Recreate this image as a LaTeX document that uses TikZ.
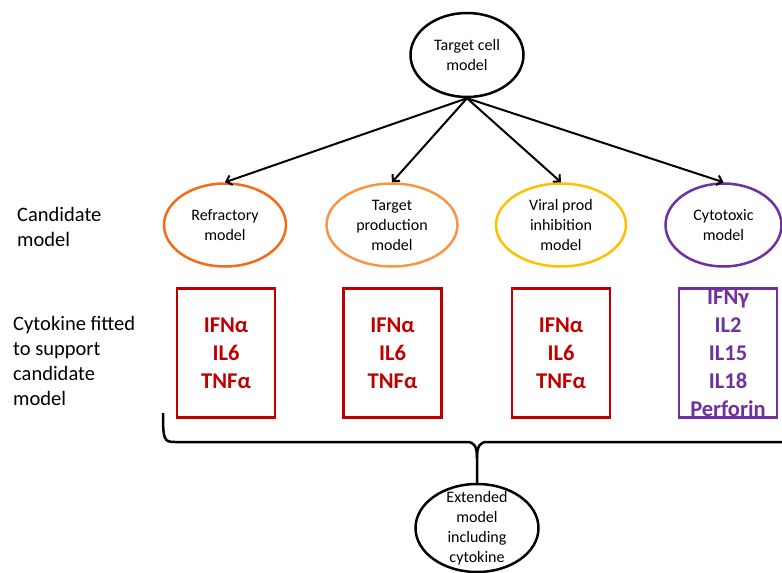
\documentclass[tikz,border=0pt]{standalone}
\usepackage{fontspec}
\setmainfont{Carlito}
\usetikzlibrary{positioning}
\usetikzlibrary{shapes.geometric}
\usetikzlibrary{arrows.meta}

\definecolor{refrorange}{HTML}{F26B16}
\definecolor{prodorange}{HTML}{F79646}
\definecolor{viralgold}{HTML}{FFC000}
\definecolor{cytopurple}{HTML}{7030A0}
\definecolor{cytored}{HTML}{C00000}

\begin{document}
\begin{tikzpicture}[
    x=1pt, y=-1pt,
    model/.style={draw, ellipse, line width=2.5pt, inner sep=0pt, align=center,
        font=\fontsize{16}{20}\selectfont},
    cytobox/.style={draw, rectangle, line width=2.5pt, minimum width=98pt,
        minimum height=129pt, inner sep=0pt, inner ysep=-5pt, align=center,
        font=\bfseries\fontsize{22.5}{28}\selectfont},
    sidelbl/.style={anchor=west, align=left, inner sep=0pt, font=\fontsize{20.5}{25}\selectfont},
    modelarrow/.style={-{Straight Barb[length=5pt,width=10pt]}, line width=2pt}
]

    % Frame
    \useasboundingbox (0,0) rectangle (782,573);
    \clip (0,0) rectangle (782,573);

    % Top model
    \node[model, minimum width=113pt, minimum height=84pt] (target) at (467,55) {Target cell\\model};

    % Candidate models
    \node[model, refrorange, text=black, minimum width=122pt, minimum height=83pt] (refr) at (225,225) {Refractory\\model};
    \node[model, prodorange, text=black, minimum width=131pt, minimum height=83pt] (tprod) at (392,225) {Target\\production\\model};
    \node[model, viralgold, text=black, minimum width=130pt, minimum height=83pt] (vprod) at (561,225) {Viral prod\\inhibition\\model};
    \node[model, cytopurple, text=black, minimum width=116pt, minimum height=83pt] (cyto) at (723.5,225) {Cytotoxic\\model};

    \foreach \m in {refr,tprod,vprod,cyto}
        \draw[modelarrow] (target.south) -- (\m.north);

    % Row labels
    \node[sidelbl] (candlbl) at (17,227) {Candidate\\model};
    \node[sidelbl] (fitlbl) at (13,360.5) {Cytokine fitted\\to support\\candidate\\model};

    % Cytokines
    \node[cytobox, cytored] (refrcyt) at (226,353) {IFNα\\IL6\\TNFα};
    \node[cytobox, cytored] (tprodcyt) at (392.5,353) {IFNα\\IL6\\TNFα};
    \node[cytobox, cytored] (vprodcyt) at (561,353) {IFNα\\IL6\\TNFα};
    \node[cytobox, cytopurple] (cytocyt) at (728,353) {IFNγ\\IL2\\IL15\\IL18\\Perforin};

    % Extended model
    \node[model, minimum width=123pt, minimum height=88pt, inner ysep=-7pt] (ext) at (477,528) {Extended\\model\\including\\cytokine};

    % Brace
    \draw[line width=2.5pt] (163,413) .. controls (163,440) and (164,442) .. (175,442)
        -- (467,442) .. controls (474,442) and (477,446) .. (477,458) -- (ext.north);
    \draw[line width=2.5pt] (477,458) .. controls (477,446) and (480,442) .. (487,442) -- (790,442);

\end{tikzpicture}
\end{document}
